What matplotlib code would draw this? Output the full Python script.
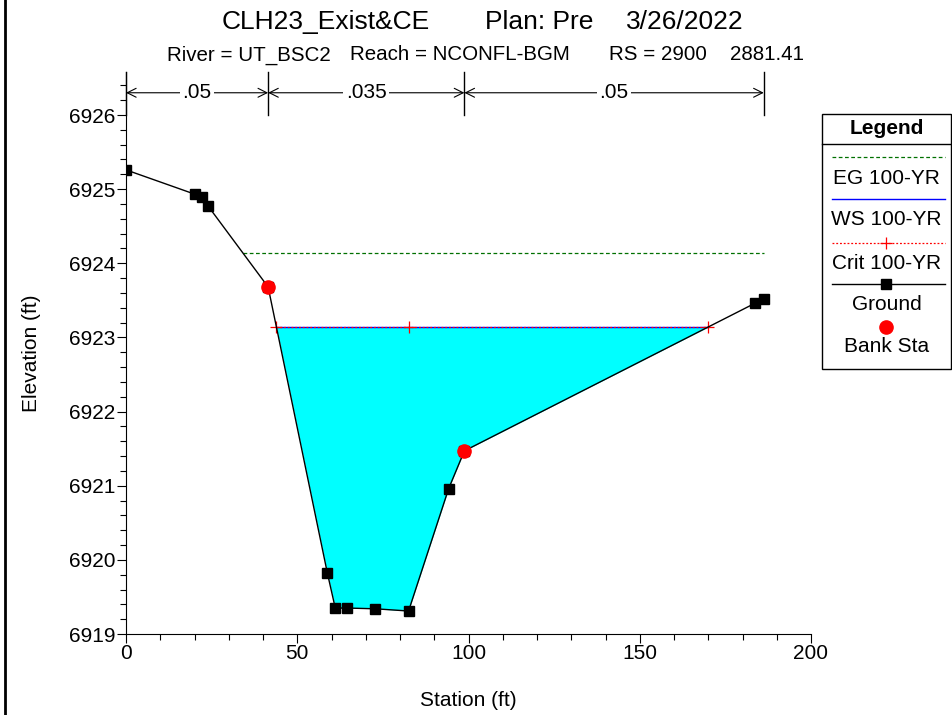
import matplotlib
matplotlib.use("Agg")
import matplotlib.pyplot as plt
from matplotlib.lines import Line2D
from matplotlib.patches import Rectangle
import numpy as np

plt.rcParams['font.family'] = ['Liberation Sans', 'DejaVu Sans']

# ---- data ----
ground_sta = [0.0, 20.2, 22.2, 24.0, 41.5, 58.8, 61.1, 64.6, 72.8, 82.5, 94.2, 98.8, 183.6, 186.2]
ground_elev = [6925.26, 6924.93, 6924.89, 6924.77, 6923.68, 6919.82, 6919.35, 6919.35,
               6919.34, 6919.31, 6920.96, 6921.47, 6923.46, 6923.52]
bank_sta = [41.5, 98.8]
bank_elev = [6923.68, 6921.47]
eg_sta = [34.1, 186.2]
eg_elev = 6924.14
ws_sta = [43.9, 170.0]
ws_elev = 6923.14
crit_sta = [43.9, 82.5, 170.0]
crit_elev = 6923.14
n_bounds = [0.0, 41.5, 98.8, 186.2]
n_values = ['.05', '.035', '.05']

title_parts = ["CLH23_Exist&CE", "Plan: Pre", "3/26/2022"]
subtitle_parts = ["River = UT_BSC2", "Reach = NCONFL-BGM", "RS = 2900", "2881.41"]

W, H = 953, 715
fig = plt.figure(figsize=(W / 100, H / 100), dpi=100)
ax = fig.add_axes([126 / W, 1 - 634 / H, 685 / W, (634 - 72) / H])

ymin, ymax = 6919.0, 6926.58
ax.set_xlim(0, 200)
ax.set_ylim(ymin, ymax)

# water fill
gs = np.array(ground_sta)
ge = np.array(ground_elev)
ax.fill_between(gs, ge, ws_elev, where=ge <= ws_elev, interpolate=True,
                color='#00FFFF', linewidth=0, zorder=1)

# EG line
ax.plot(eg_sta, [eg_elev] * len(eg_sta), color='#007000', linestyle=(0, (3, 2)), lw=0.9, zorder=2)
# WS line
ax.plot(ws_sta, [ws_elev] * len(ws_sta), color='#0000FF', lw=1.0, zorder=3)
# Crit line
ax.plot(crit_sta, [crit_elev] * len(crit_sta), color='#FF0000', linestyle=(0, (1.5, 1.5)), lw=0.9,
        marker='+', markersize=8, markeredgewidth=0.9, zorder=4)
# ground
ax.plot(ground_sta, ground_elev, color='black', lw=1.0, marker='s', markersize=6.5,
        markerfacecolor='black', zorder=5)
# bank stations
ax.plot(bank_sta, bank_elev, linestyle='none', marker='o', markersize=9.5,
        color='#FF0000', zorder=6)

# manning n markers
y_arrow = 6926.30
for b in n_bounds:
    ax.plot([b, b], [6926.0, ymax], color='black', lw=1.0, clip_on=False, zorder=6)
for i, val in enumerate(n_values):
    a, b = n_bounds[i], n_bounds[i + 1]
    ax.annotate('', xy=(a, y_arrow), xytext=(b, y_arrow),
                arrowprops=dict(arrowstyle='<->', color='black', lw=0.8,
                                shrinkA=0, shrinkB=0, mutation_scale=16),
                annotation_clip=False)
    ax.text((a + b) / 2, y_arrow, val, ha='center', va='center', fontsize=15,
            bbox=dict(facecolor='white', edgecolor='none', pad=2), zorder=7)

# spines & ticks
ax.spines['top'].set_visible(False)
ax.spines['right'].set_visible(False)
ax.set_xticks([0, 50, 100, 150, 200])
ax.set_xticks(np.arange(0, 201, 10), minor=True)
ax.set_yticks(np.arange(6919, 6927, 1))
ax.set_yticks(np.arange(6919, 6926.5, 0.2), minor=True)
ax.tick_params(which='major', direction='out', length=6.5, width=0.8, labelsize=15, pad=1)
ax.tick_params(which='minor', direction='out', length=4, width=0.8)
ax.set_xlabel('Station (ft)', fontsize=15, labelpad=20)
ax.set_ylabel('Elevation (ft)', fontsize=15, labelpad=20)

# titles
for txt, x0 in zip(title_parts, [222, 485, 626]):
    fig.text(x0 / W, 1 - 22 / H, txt, ha='left', va='center', fontsize=19)
for txt, x0 in zip(subtitle_parts, [167, 350, 609, 730]):
    fig.text(x0 / W, 1 - 55 / H, txt, ha='left', va='center', fontsize=14.8)

# left border
fig.add_artist(Line2D([5 / W, 5 / W], [0, 1], color='black', lw=2))

# legend box (manual)
lx0, lx1, ly0, ly1 = 822, 951, 114, 369
fig.add_artist(Rectangle((lx0 / W, 1 - ly1 / H), (lx1 - lx0) / W, (ly1 - ly0) / H,
                         fill=False, edgecolor='black', lw=1.0, transform=fig.transFigure))
fig.add_artist(Line2D([lx0 / W, lx1 / W], [1 - 144 / H] * 2, color='black', lw=1.0))
cx = (lx0 + lx1) / 2 / W
fig.text(cx, 1 - 128 / H, 'Legend', ha='center', va='center', fontsize=15, fontweight='bold')
sx0, sx1 = 832 / W, 945 / W
fig.add_artist(Line2D([sx0, sx1], [1 - 157 / H] * 2, color='#007000', linestyle=(0, (3, 2)), lw=0.9))
fig.text(cx, 1 - 178 / H, 'EG 100-YR', ha='center', va='center', fontsize=15)
fig.add_artist(Line2D([sx0, sx1], [1 - 199 / H] * 2, color='#0000FF', lw=1.0))
fig.text(cx, 1 - 219 / H, 'WS 100-YR', ha='center', va='center', fontsize=15)
fig.add_artist(Line2D([sx0, sx1], [1 - 243 / H] * 2, color='#FF0000', linestyle=(0, (1.5, 1.5)), lw=0.9))
fig.add_artist(Line2D([cx], [1 - 243 / H], color='#FF0000', marker='+', markersize=8, markeredgewidth=0.9))
fig.text(cx, 1 - 263 / H, 'Crit 100-YR', ha='center', va='center', fontsize=15)
fig.add_artist(Line2D([sx0, sx1], [1 - 284 / H] * 2, color='black', lw=1.0))
fig.add_artist(Line2D([cx], [1 - 284 / H], color='black', marker='s', markersize=6.5))
fig.text(cx, 1 - 304 / H, 'Ground', ha='center', va='center', fontsize=15)
fig.add_artist(Line2D([cx], [1 - 327 / H], color='#FF0000', marker='o', markersize=9.5, linestyle='none'))
fig.text(cx, 1 - 347 / H, 'Bank Sta', ha='center', va='center', fontsize=15)

fig.savefig('out.png', dpi=100)
